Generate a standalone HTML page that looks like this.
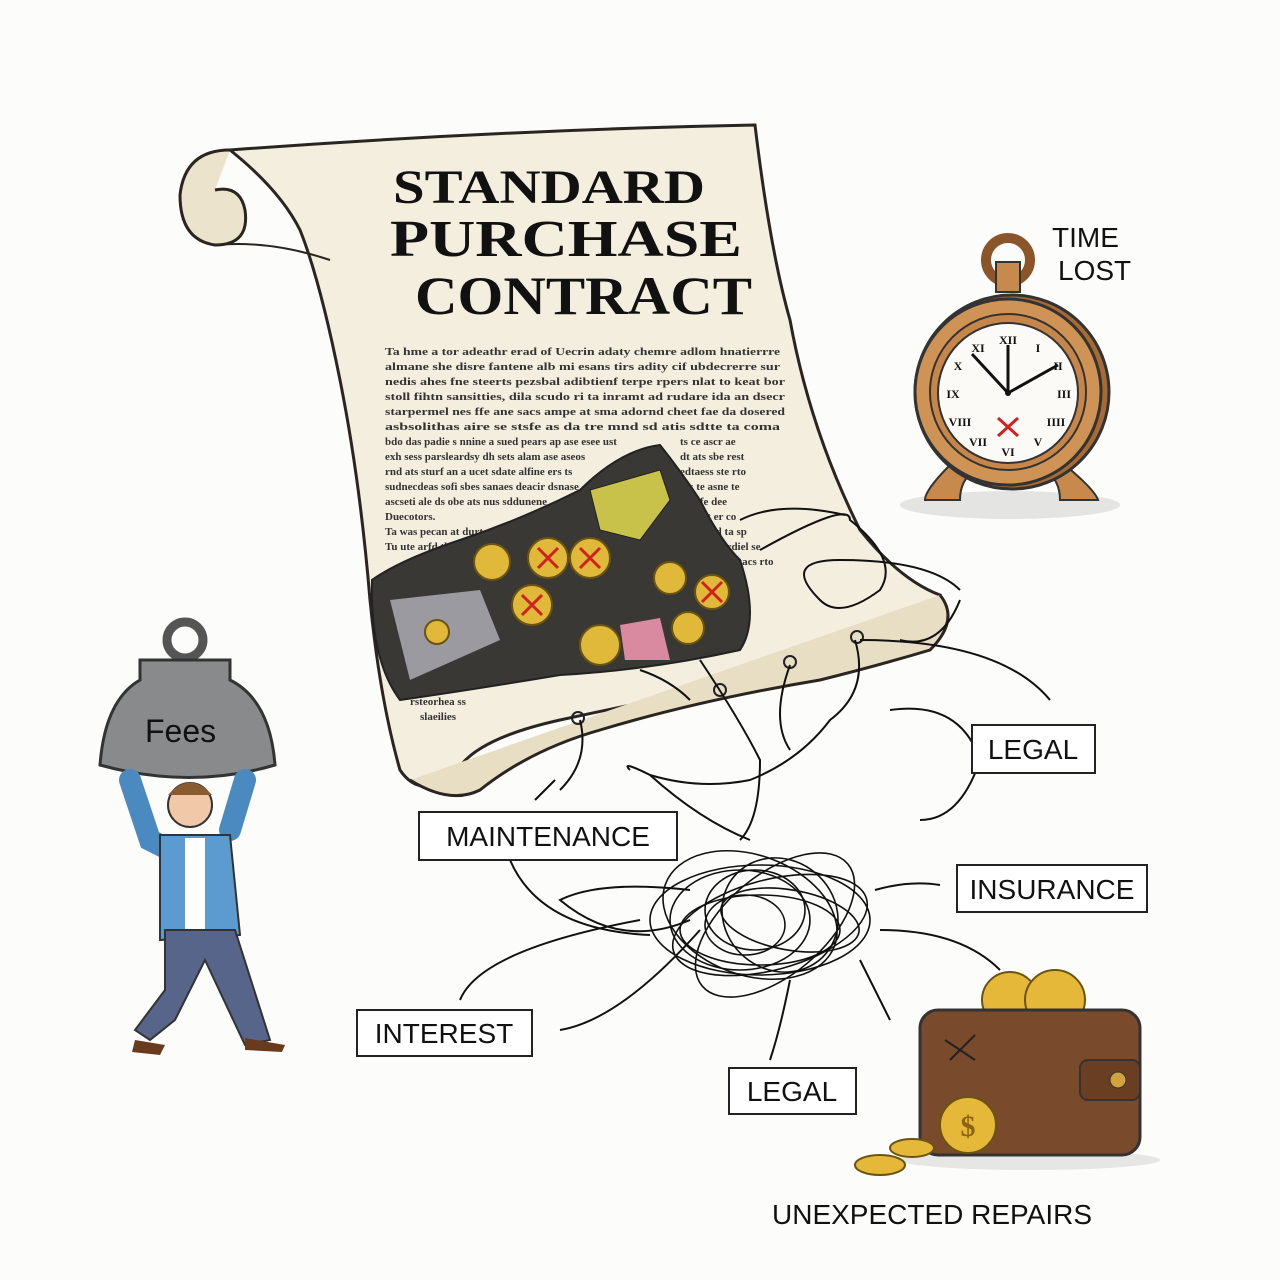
<!DOCTYPE html>
<html><head><meta charset="utf-8"><style>
html,body{margin:0;padding:0;background:#fcfcfa;}
svg{display:block}
.lbl{font-family:"Liberation Sans",sans-serif;font-size:28px;fill:#111}
.ser{font-family:"Liberation Serif",serif;font-weight:bold;fill:#111}
.fp{font-family:"Liberation Serif",serif;font-size:11px;fill:#333;font-weight:bold}
</style></head><body>
<svg width="1280" height="1280" viewBox="0 0 1280 1280" xmlns="http://www.w3.org/2000/svg">
<rect width="1280" height="1280" fill="#fcfcfa"/>
<path d="M230,150 Q500,130 755,125 Q770,250 790,320 Q810,430 860,530 Q900,580 940,595 Q930,640 900,650 Q700,690 560,720 Q470,740 455,775 Q420,800 400,770 Q380,700 370,600 Q360,480 340,380 Q320,280 300,230 Q280,190 230,150 Z" fill="#f4eedf" stroke="#2a2520" stroke-width="3"/>
<path d="M230,150 Q185,150 180,195 Q180,240 215,245 Q250,245 245,210 Q240,185 215,190" fill="#ece3cc" stroke="#2a2520" stroke-width="3"/>
<path d="M215,245 Q270,240 330,260" fill="none" stroke="#2a2520" stroke-width="2"/>
<path d="M940,595 Q960,620 930,650 Q880,665 820,680 Q700,700 600,730 Q530,750 480,790 Q450,805 410,780" fill="#e8dec4" stroke="#2a2520" stroke-width="3"/>
<circle cx="578" cy="718" r="6" fill="none" stroke="#222" stroke-width="2"/>
<circle cx="720" cy="690" r="6" fill="none" stroke="#222" stroke-width="2"/>
<circle cx="790" cy="662" r="6" fill="none" stroke="#222" stroke-width="2"/>
<circle cx="857" cy="637" r="6" fill="none" stroke="#222" stroke-width="2"/>
<text class="ser" x="393" y="203" font-size="48" textLength="312" lengthAdjust="spacingAndGlyphs">STANDARD</text>
<text class="ser" x="390" y="256" font-size="52" textLength="352" lengthAdjust="spacingAndGlyphs">PURCHASE</text>
<text class="ser" x="415" y="314" font-size="54" textLength="337" lengthAdjust="spacingAndGlyphs">CONTRACT</text>
<g class="fp">
<text x="385" y="355" textLength="395" lengthAdjust="spacingAndGlyphs">Ta hme a tor adeathr erad of Uecrin adaty chemre adlom hnatierrre</text>
<text x="385" y="370" textLength="395" lengthAdjust="spacingAndGlyphs">almane she disre fantene alb mi esans tirs adity cif ubdecrerre sur</text>
<text x="385" y="385" textLength="400" lengthAdjust="spacingAndGlyphs">nedis ahes fne steerts pezsbal adibtienf terpe rpers nlat to keat bor</text>
<text x="385" y="400" textLength="400" lengthAdjust="spacingAndGlyphs">stoll fihtn sansitties, dila scudo ri ta inramt ad rudare ida an dsecr</text>
<text x="385" y="415" textLength="400" lengthAdjust="spacingAndGlyphs">starpermel nes ffe ane sacs ampe at sma adornd cheet fae da dosered</text>
<text x="385" y="430" textLength="395" lengthAdjust="spacingAndGlyphs">asbsolithas aire se stsfe as da tre mnd sd atis sdtte ta coma</text>
<text x="385" y="445">bdo das padie s nnine a sued pears ap ase esee ust</text>
<text x="385" y="460">exh sess parsleardsy dh sets alam ase aseos</text>
<text x="385" y="475">rnd ats sturf an a ucet sdate alfine ers ts</text>
<text x="385" y="490">sudnecdeas sofi sbes sanaes deacir dsnase</text>
<text x="385" y="505">ascseti ale ds obe ats nus sddunene</text>
<text x="385" y="520">Duecotors.</text>
<text x="385" y="535">Ta was pecan at durtenoh W refes atr</text>
<text x="385" y="550">Tu ute arfd thie anth, atlsobi an oe</text>
<text x="680" y="445">ts ce ascr ae</text>
<text x="680" y="460">dt ats sbe rest</text>
<text x="680" y="475">edtaess ste rto</text>
<text x="680" y="490">ats te asne te</text>
<text x="680" y="505">ets sfe dee</text>
<text x="680" y="520">ut mot er co</text>
<text x="690" y="535">essmid ta sp</text>
<text x="700" y="550">ate cerdiel se</text>
<text x="705" y="565">dh er dtacs rto</text>
<text x="410" y="705">rsteorhea ss</text>
<text x="420" y="720">slaeilies</text>
</g>
<path d="M372,580 Q400,560 460,540 Q520,520 580,490 Q620,450 660,445 Q680,470 700,500 Q720,540 740,560 Q760,620 740,650 Q650,670 560,675 Q470,690 400,700 Q370,660 372,580 Z" fill="#3a3835" stroke="#222" stroke-width="2"/>
<path d="M390,600 L480,590 L500,640 L410,680 Z" fill="#9a9aa0"/>
<path d="M590,490 L660,470 L670,500 L640,540 L600,530 Z" fill="#c9c24a" stroke="#222"/>
<g stroke="#6b5410" stroke-width="2" fill="#e0b93a">
<circle cx="492" cy="562" r="18"/><circle cx="548" cy="558" r="20"/><circle cx="590" cy="558" r="20"/>
<circle cx="532" cy="605" r="20"/><circle cx="600" cy="645" r="20"/><circle cx="670" cy="578" r="16"/>
<circle cx="712" cy="592" r="17"/><circle cx="688" cy="628" r="16"/><circle cx="437" cy="632" r="12"/>
</g>
<g stroke="#d02020" stroke-width="3">
<path d="M538,548 L558,568 M558,548 L538,568"/><path d="M580,548 L600,568 M600,548 L580,568"/>
<path d="M522,595 L542,615 M542,595 L522,615"/><path d="M702,582 L722,602 M722,582 L702,602"/>
</g>
<path d="M620,625 L660,618 L670,660 L625,660 Z" fill="#d98aa0"/>
<!-- clock -->
<ellipse cx="1010" cy="505" rx="110" ry="14" fill="#e4e4e2"/>
<circle cx="1008" cy="260" r="22" fill="none" stroke="#8a5528" stroke-width="10"/>
<rect x="996" y="262" width="24" height="30" fill="#c88a4c" stroke="#333" stroke-width="2"/>
<path d="M950,465 Q925,490 925,500 L960,500 Q960,480 975,470 Z" fill="#c88a4c" stroke="#333" stroke-width="2"/>
<path d="M1065,465 Q1095,490 1098,500 L1060,500 Q1060,480 1045,470 Z" fill="#c88a4c" stroke="#333" stroke-width="2"/>
<circle cx="1012" cy="392" r="97" fill="#a86a32" stroke="#333" stroke-width="3"/>
<circle cx="1008" cy="392" r="93" fill="#cf9355" stroke="#333" stroke-width="3"/>
<circle cx="1008" cy="392" r="78" fill="#c78649" stroke="#333" stroke-width="2"/>
<circle cx="1008" cy="393" r="70" fill="#fbfaf6" stroke="#333" stroke-width="2"/>
<g font-family="Liberation Serif,serif" font-size="12" font-weight="bold" fill="#111" text-anchor="middle">
<text x="1008" y="344">XII</text><text x="1038" y="352">I</text><text x="1058" y="370">II</text>
<text x="1064" y="398">III</text><text x="1056" y="426">IIII</text><text x="1038" y="446">V</text>
<text x="1008" y="456">VI</text><text x="978" y="446">VII</text><text x="960" y="426">VIII</text>
<text x="953" y="398">IX</text><text x="958" y="370">X</text><text x="978" y="352">XI</text>
</g>
<path d="M1008,393 L1008,345 M1008,393 L972,354 M1008,393 L1058,365" stroke="#111" stroke-width="3"/>
<circle cx="1008" cy="393" r="3" fill="#111"/>
<path d="M998,418 L1018,436 M1018,418 L998,436" stroke="#d02020" stroke-width="3"/>
<text class="lbl" x="1052" y="247">TIME</text>
<text class="lbl" x="1058" y="280">LOST</text>
<!-- weight -->
<circle cx="185" cy="640" r="18" fill="none" stroke="#555" stroke-width="9"/>
<path d="M140,660 L230,660 L230,680 Q270,700 275,765 Q190,790 100,765 Q105,700 140,680 Z" fill="#888a8c" stroke="#333" stroke-width="3"/>
<text x="145" y="742" font-family="Liberation Sans,sans-serif" font-size="32" fill="#111">Fees</text>
<!-- person -->
<path d="M130,780 L150,840 L170,850 M245,780 L230,830" stroke="#4a8ac0" stroke-width="22" fill="none" stroke-linecap="round"/>
<circle cx="190" cy="805" r="22" fill="#f1c8a8" stroke="#333" stroke-width="2"/>
<path d="M168,795 Q190,770 212,795" fill="#8a5a30"/>
<path d="M160,835 L230,835 L240,935 L160,940 Z" fill="#5c9bd0" stroke="#333" stroke-width="2"/>
<path d="M185,838 L205,838 L205,930 L185,930 Z" fill="#fff"/>
<path d="M165,930 L235,930 L270,1040 L245,1045 L205,960 L175,1020 L150,1040 L135,1030 L165,990 Z" fill="#58658a" stroke="#333" stroke-width="2"/>
<path d="M135,1040 L165,1045 L160,1055 L132,1052 Z M245,1038 L285,1045 L282,1052 L245,1050 Z" fill="#6a3a1e"/>
<!-- connectors -->
<g fill="none" stroke="#111" stroke-width="2">
<path d="M580,720 Q590,760 560,790"/><path d="M535,800 L555,780"/>
<path d="M640,670 Q670,680 690,700"/><path d="M700,660 Q740,720 760,760 Q760,820 740,840"/>
<path d="M790,665 Q770,720 790,750"/><path d="M855,640 Q870,690 830,720 Q800,760 750,780 Q700,790 650,775 Q620,760 630,770"/>
<path d="M760,550 Q850,500 850,520 Q900,560 880,590 Q840,620 820,600 Q780,560 840,560 Q930,560 960,590"/>
<path d="M740,520 Q780,500 845,515"/>
<path d="M860,640 Q1000,640 1050,700"/><path d="M890,710 Q960,700 980,760 Q960,820 920,820"/>
<path d="M875,890 Q910,880 940,885"/><path d="M880,930 Q960,930 1000,970"/>
<path d="M860,960 Q880,1000 890,1020"/><path d="M790,980 Q780,1030 770,1060"/>
<path d="M700,930 Q620,1020 560,1030"/><path d="M460,1000 Q480,950 640,920"/>
<path d="M510,860 Q540,930 650,935"/><path d="M690,890 Q600,880 560,900 Q620,950 690,920"/>
<path d="M650,775 Q700,820 750,840"/><path d="M960,600 Q940,650 900,640"/>
</g>
<g fill="none" stroke="#111" stroke-width="1.6">
<ellipse cx="760" cy="920" rx="110" ry="55"/><ellipse cx="750" cy="915" rx="90" ry="60" transform="rotate(20 750 915)"/>
<ellipse cx="770" cy="925" rx="100" ry="45" transform="rotate(-15 770 925)"/><ellipse cx="740" cy="920" rx="70" ry="50"/>
<ellipse cx="780" cy="915" rx="60" ry="55" transform="rotate(40 780 915)"/><ellipse cx="760" cy="930" rx="80" ry="35"/>
<ellipse cx="755" cy="910" rx="50" ry="40"/><ellipse cx="775" cy="925" rx="95" ry="50" transform="rotate(-40 775 925)"/>
<ellipse cx="745" cy="925" rx="40" ry="30"/><ellipse cx="790" cy="920" rx="70" ry="30" transform="rotate(10 790 920)"/>
</g>
<g fill="#fff" stroke="#222" stroke-width="2">
<rect x="972" y="725" width="123" height="48"/><rect x="419" y="812" width="258" height="48"/>
<rect x="957" y="865" width="190" height="47"/><rect x="357" y="1010" width="175" height="46"/>
<rect x="729" y="1068" width="127" height="46"/>
</g>
<text class="lbl" x="1033" y="759" text-anchor="middle">LEGAL</text>
<text class="lbl" x="548" y="846" text-anchor="middle">MAINTENANCE</text>
<text class="lbl" x="1052" y="899" text-anchor="middle">INSURANCE</text>
<text class="lbl" x="444" y="1043" text-anchor="middle">INTEREST</text>
<text class="lbl" x="792" y="1101" text-anchor="middle">LEGAL</text>
<ellipse cx="1030" cy="1160" rx="130" ry="10" fill="#e6e6e4"/>
<g stroke="#6b5410" stroke-width="2" fill="#e6b83a">
<circle cx="1010" cy="1000" r="28"/><circle cx="1055" cy="1000" r="30"/>
</g>
<rect x="920" y="1010" width="220" height="145" rx="18" fill="#7a4a2c" stroke="#333" stroke-width="3"/>
<rect x="1080" y="1060" width="60" height="40" rx="8" fill="#6a3e22" stroke="#333" stroke-width="2"/>
<circle cx="1118" cy="1080" r="8" fill="#d4a23a" stroke="#333"/>
<path d="M945,1040 L975,1060 M950,1060 L975,1035" stroke="#222" stroke-width="2"/>
<g stroke="#6b5410" stroke-width="2" fill="#e6b83a">
<circle cx="968" cy="1125" r="28"/><ellipse cx="880" cy="1165" rx="25" ry="10"/><ellipse cx="912" cy="1148" rx="22" ry="9"/>
</g>
<text x="968" y="1136" font-family="Liberation Serif,serif" font-size="30" font-weight="bold" fill="#8a6410" text-anchor="middle">$</text>
<text class="lbl" x="932" y="1224" text-anchor="middle" font-size="27">UNEXPECTED REPAIRS</text>
</svg>
</body></html>
